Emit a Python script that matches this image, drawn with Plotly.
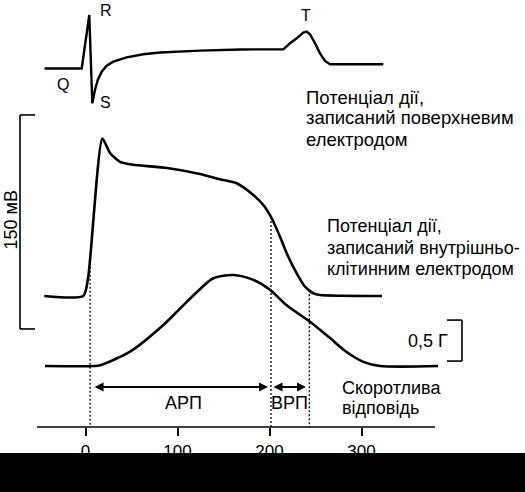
import numpy as np
import plotly.graph_objects as go

FONT = "Arial, Liberation Sans, sans-serif"

# time axis, ms
ticks_ms = [0, 100, 200, 300]

# surface ECG (arbitrary mV, R = 1)
ecg_t = [-44.5, -4.1, 4.1, 7.4, 10.3, 13.3, 17.6, 23.0, 30.2, 44.8, 62.8, 81.0, 124.5, 168.0,
         215.0, 222.3, 229.6, 236.7, 240.4, 244.0, 249.5, 254.9, 260.3, 265.8, 323.7]
ecg_mv = [0, 0, 1.0, -0.65, -0.40, -0.215, -0.06, 0.052, 0.127, 0.209, 0.265, 0.299, 0.333, 0.355,
          0.359, 0.471, 0.564, 0.669, 0.688, 0.639, 0.471, 0.284, 0.140, 0.079, 0.079]

# intracellular action potential, mV
ap_t = [-44.8, -2.4, 3.0, 18.3, 26.6, 37.5, 51.6, 88.6, 124.5, 146.2, 164.3, 182.4, 193.3,
        202.4, 211.4, 220.4, 229.6, 238.6, 247.6, 254.9, 322.3]
ap_mv = [-90, -90, -76.5, 20.3, 10.2, 4.0, 2.0, -0.3, -4.5, -8.2, -11.0, -19.2, -26.2,
         -35.5, -48.4, -62.5, -74.1, -83.5, -88.1, -89.3, -90]

# contraction force, g
force_t = [-44.0, 10.0, 15.8, 48.4, 84.6, 102.7, 120.9, 138.9, 160.7, 182.4, 200.5, 218.7,
           244.0, 265.8, 283.9, 302.0, 320.1, 383.2]
force_g = [0, 0, 0.01, 0.175, 0.50, 0.70, 0.90, 1.07, 1.11, 1.05, 0.93, 0.74,
           0.54, 0.34, 0.17, 0.05, 0, 0]

# refractory period boundaries, ms
marks_ms = [5.0, 201.6, 243.3]

W, H, PLOT_H = 525, 492, 427


def px(x):
    return x / W


def py(y):
    return (PLOT_H - y) / PLOT_H


fig = go.Figure()

# dotted guides from the AP curve down to the time axis
for t in marks_ms:
    top = float(np.interp(t, ap_t, ap_mv))
    fig.add_trace(go.Scatter(x=[t, t], y=[top, -181.82], mode="lines", yaxis="y2",
                             line=dict(color="black", width=1.3, dash="2px,2px"),
                             hoverinfo="skip", showlegend=False))

fig.add_trace(go.Scatter(x=ecg_t, y=ecg_mv, mode="lines", yaxis="y",
                         line=dict(color="black", width=2.4),
                         showlegend=False))
fig.add_trace(go.Scatter(x=ap_t, y=ap_mv, mode="lines", yaxis="y2",
                         line=dict(color="black", width=2.6, shape="spline", smoothing=0.6),
                         showlegend=False))
fig.add_trace(go.Scatter(x=force_t, y=force_g, mode="lines", yaxis="y3",
                         line=dict(color="black", width=2.6, shape="spline", smoothing=0.8),
                         showlegend=False))

shapes = []
# time axis line
shapes.append(dict(type="line", xref="paper", yref="paper", x0=px(37), x1=px(435), y0=0, y1=0,
                   line=dict(color="black", width=1.6)))
# 150 mV scale bracket
for seg in [(-71.2, 36.9, -71.2, -113.1), (-71.2, 36.9, -54.9, 36.9), (-71.2, -113.1, -54.9, -113.1)]:
    shapes.append(dict(type="line", xref="x", yref="y2", x0=seg[0], y0=seg[1], x1=seg[2], y1=seg[3],
                       line=dict(color="black", width=1.6)))
# 0,5 g scale bracket
for seg in [(409.2, 0.56, 409.2, 0.06), (392.9, 0.56, 409.2, 0.56), (392.9, 0.06, 409.2, 0.06)]:
    shapes.append(dict(type="line", xref="x", yref="y3", x0=seg[0], y0=seg[1], x1=seg[2], y1=seg[3],
                       line=dict(color="black", width=1.6)))
# black band at the bottom of the scan
shapes.append(dict(type="rect", xref="paper", yref="paper", x0=-0.05, x1=1.05, y0=py(453), y1=-0.3,
                   fillcolor="black", line=dict(width=0), layer="above"))

txt = dict(color="black", size=18, family=FONT)
txt_big = dict(color="black", size=18.5, family=FONT)
txt_wave = dict(color="black", size=16, family=FONT)


def label(text, x, y, **kw):
    d = dict(text=text, x=px(x), y=py(y), xref="paper", yref="paper", showarrow=False,
             xanchor="center", yanchor="middle", font=txt)
    d.update(kw)
    return d


annotations = [
    label("R", 106, 10, font=txt_wave),
    label("Q", 62.5, 84, font=txt_wave),
    label("S", 105, 102.5, font=txt_wave),
    label("T", 306, 15, font=txt_wave),
]
for i, line in enumerate(["Потенціал дії,", "записаний поверхневим", "електродом"]):
    annotations.append(label(line, 304, 97 + 21 * i, xanchor="left", font=txt_big))
for i, line in enumerate(["Потенціал дії,", "записаний внутрішньо-", "клітинним електродом"]):
    annotations.append(label(line, 325, 226 + 21.5 * i, xanchor="left"))
annotations += [
    dict(text="150 мВ", x=-81.5, y=-36.7, xref="x", yref="y2", textangle=-90,
         showarrow=False, font=txt),
    dict(text="0,5 Г", x=396.0, y=0.30, xref="x", yref="y3", xanchor="right",
         showarrow=False, font=txt),
    dict(text="АРП", x=106.0, y=-0.451, xref="x", yref="y3", showarrow=False, font=txt),
    dict(text="ВРП", x=221.2, y=-0.451, xref="x", yref="y3", showarrow=False, font=txt),
    label("Скоротлива", 340, 388, xanchor="left"),
    label("відповідь", 340, 408, xanchor="left"),
]
# double-headed arrows for the refractory periods
for a, b in [(8.2, 198.4), (202.7, 239.7)]:
    annotations.append(dict(text="", x=b, y=-0.256, ax=a, ay=-0.256, xref="x", yref="y3",
                            axref="x", ayref="y3", showarrow=True, arrowhead=2, arrowside="end+start",
                            arrowsize=1, arrowwidth=1.8, arrowcolor="black", standoff=0, startstandoff=0))

fig.update_layout(
    width=W, height=H,
    margin=dict(l=0, r=0, t=0, b=H - PLOT_H),
    paper_bgcolor="white", plot_bgcolor="white",
    xaxis=dict(range=[-85.5 / 0.92, (W - 85.5) / 0.92], tickvals=ticks_ms, ticks="outside",
               ticklen=8, tickwidth=1.5, tickcolor="black", showgrid=False, zeroline=False,
               showline=False, ticklabelstandoff=1,
               tickfont=dict(size=17, color="black", family=FONT)),
    yaxis=dict(range=[-6.701, 1.280], visible=False),
    yaxis2=dict(range=[-181.82, 117.47], overlaying="y", visible=False),
    yaxis3=dict(range=[-0.7439, 4.4634], overlaying="y", visible=False),
    shapes=shapes,
    annotations=annotations,
    showlegend=False,
)

fig.write_html("out.html", config={"displayModeBar": False},
               post_script="document.body.style.margin='0';document.body.style.overflow='hidden';")
